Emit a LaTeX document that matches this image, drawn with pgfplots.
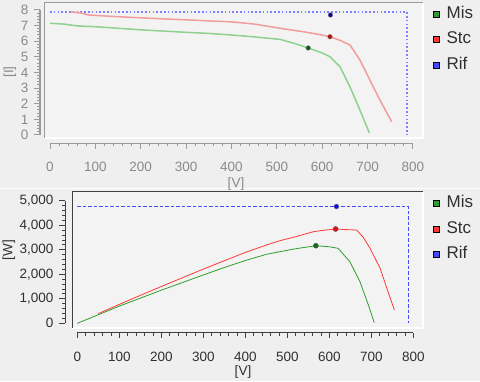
\documentclass[border=0pt]{standalone}
\usepackage{pgfplots}
\pgfplotsset{compat=1.18}
\usepackage{fontspec}
\setmainfont{Liberation Sans}

\definecolor{bgcol}{HTML}{EFEFEF}
\definecolor{plotbg}{HTML}{F3F3F3}
% top chart (faded)
\definecolor{tTxt}{HTML}{8A8A8A}
\definecolor{tAx}{HTML}{9A9A9A}
\definecolor{tMis}{HTML}{8FD18F}
\definecolor{tStc}{HTML}{F29C9C}
\definecolor{tRif}{HTML}{8080FF}
% bottom chart
\definecolor{bTxt}{HTML}{303030}
\definecolor{bAx}{HTML}{404040}
\definecolor{bMis}{HTML}{2E9E2E}
\definecolor{bStc}{HTML}{FF3838}
\definecolor{bRif}{HTML}{4848FF}
\definecolor{dMis}{HTML}{107010}
\definecolor{dStc}{HTML}{E01010}
\definecolor{dRif}{HTML}{0A0AE0}

\pgfplotsset{
  plotarea/.style={
    anchor=south west, scale only axis,
    xtick=\empty, ytick=\empty,
    axis line style={draw=none},
    axis background/.style={fill=plotbg},
    clip=false,
  },
  xscale axis/.style={
    anchor=south west, scale only axis, height=10pt,
    xmin=0, xmax=800, ymin=0, ymax=1,
    axis x line=bottom, axis y line=none,
    xtick={0,100,...,800}, minor x tick num=4,
    xtick align=outside,
    major tick length=5.5pt, minor tick length=3pt,
    tick label style={font=\fontsize{13.5}{15}\selectfont},
    xticklabel style={yshift=-10pt},
    /pgf/number format/assume math mode=true,
  },
  yscale axis/.style={
    anchor=south west, scale only axis, width=10pt,
    xmin=0, xmax=1,
    axis y line=left, axis x line=none,
    minor y tick num=4,
    ytick align=outside,
    major tick length=6pt, minor tick length=3pt,
    tick label style={font=\fontsize{13.5}{15}\selectfont},
    /pgf/number format/assume math mode=true,
    /pgf/number format/1000 sep={,},
  },
  leg/.style={
    legend style={at={(axis description cs:1,1)}, anchor=north west,
      xshift=7pt, yshift=-1pt, draw=none, fill=none,
      font=\fontsize{17}{19}\selectfont, row sep=8.5pt,
      nodes={inner xsep=1pt, inner ysep=1pt, text height=12pt, text depth=3pt},
      /tikz/every odd column/.append style={column sep=6pt}},
    legend cell align=left,
    legend image code/.code={\fill[##1] (0pt,-3pt) rectangle (6pt,3pt);},
  },
}

\begin{document}
\begin{tikzpicture}
\fill[bgcol] (0,0) rectangle (480pt,381pt);
\draw[white, line width=1pt] (0,192pt) -- (480pt,192pt);

% ---------------- top: I-V ----------------
\begin{axis}[plotarea, leg, at={(45pt,243pt)}, width=378pt, height=136pt,
  xmin=-11, xmax=822, ymin=-0.19, ymax=8.51]
\draw[white, line width=2pt] (rel axis cs:0,0) -- (rel axis cs:1,0) -- (rel axis cs:1,1);
\draw[tAx, line width=1pt] (rel axis cs:0,0) -- (rel axis cs:0,1) -- (rel axis cs:1,1);
\addlegendimage{fill=bMis}\addlegendentry{\color{bTxt}Mis}
\addlegendimage{fill=bStc}\addlegendentry{\color{bTxt}Stc}
\addlegendimage{fill=bRif}\addlegendentry{\color{bTxt}Rif}
\addplot[forget plot, tRif, line width=1.8pt, dash pattern=on 1.6pt off 2.2pt] coordinates {
  (0,7.89)(786,7.89)(786,0)};
\addplot[forget plot, tMis, line width=1.5pt] coordinates {
  (0,7.15)(30,7.1)(60,6.98)(100,6.93)(150,6.83)(200,6.73)(250,6.65)(300,6.57)
  (350,6.5)(400,6.4)(450,6.28)(507,6.12)(540,5.85)(569,5.57)(600,5.25)(617,5.01)
  (639,4.37)(661,3.09)(683,1.6)(704,0.12)};
\addplot[forget plot, tStc, line width=1.5pt] coordinates {
  (45,7.88)(70,7.8)(85,7.68)(100,7.65)(150,7.57)(200,7.5)(250,7.43)(300,7.37)
  (350,7.3)(400,7.24)(450,7.1)(507,6.83)(560,6.6)(590,6.45)(617,6.29)(640,6.05)
  (661,5.76)(683,4.8)(705,3.52)(727,2.24)(753,0.85)};
\addplot[forget plot, only marks, mark=*, mark size=2.4pt, draw=tAx, fill=dMis!80!black] coordinates {(569,5.57)};
\addplot[forget plot, only marks, mark=*, mark size=2.4pt, draw=tAx, fill=dStc!80!black] coordinates {(617,6.29)};
\addplot[forget plot, only marks, mark=*, mark size=2.4pt, draw=tAx, fill=dRif!70!black] coordinates {(618,7.68)};
\end{axis}

\begin{axis}[xscale axis, at={(50pt,237.7pt)}, width=363pt,
  x axis line style={-, tAx, line width=1.2pt}, tick style={tAx, line width=1pt},
  tick label style={text=tTxt}]
\end{axis}

\begin{axis}[yscale axis, at={(40pt,246pt)}, height=125pt,
  ymin=0, ymax=8, ytick={0,1,...,8},
  y axis line style={-, tAx, line width=1.8pt}, tick style={tAx, line width=1pt},
  tick label style={text=tTxt}, yticklabel style={xshift=-2pt}]
\end{axis}

\node[tTxt, font=\fontsize{13.5}{15}\selectfont] at (236pt,197pt) {[V]};
\node[tTxt, font=\fontsize{13.5}{15}\selectfont, rotate=90] at (10pt,309pt) {[I]};

% ---------------- bottom: P-V ----------------
\begin{axis}[plotarea, leg, at={(72pt,53.3pt)}, width=351pt, height=136pt,
  xmin=-12.6, xmax=823.1, ymin=-179, ymax=5365]
\draw[white, line width=2pt] (rel axis cs:0,0) -- (rel axis cs:1,0) -- (rel axis cs:1,1);
\draw[bAx, line width=1pt] (rel axis cs:0,0) -- (rel axis cs:0,1) -- (rel axis cs:1,1);
\addlegendimage{fill=bMis}\addlegendentry{\color{bTxt}Mis}
\addlegendimage{fill=bStc}\addlegendentry{\color{bTxt}Stc}
\addlegendimage{fill=bRif}\addlegendentry{\color{bTxt}Rif}
\addplot[forget plot, bRif, line width=0.9pt, dash pattern=on 3.5pt off 2pt] coordinates {
  (0,4770)(788,4770)(788,0)};
\addplot[forget plot, bMis, line width=0.8pt] coordinates {
  (0,0)(50,350)(100,700)(150,1025)(200,1350)(250,1660)(300,1970)(350,2275)
  (400,2560)(450,2810)(482,2919)(520,3040)(568,3163)(600,3120)(621,3057)
  (649,2511)(673,1696)(693,746)(707,25)};
\addplot[forget plot, bStc, line width=0.8pt] coordinates {
  (50,395)(100,770)(150,1140)(200,1500)(250,1855)(300,2210)(350,2550)(400,2890)
  (450,3190)(482,3367)(520,3530)(562,3734)(590,3800)(615,3844)(640,3820)
  (665,3803)(681,3500)(697,3057)(721,2242)(737,1427)(755,542)};
\addplot[forget plot, only marks, mark=*, mark size=2.5pt, draw=black!70, fill=dMis] coordinates {(568,3163)};
\addplot[forget plot, only marks, mark=*, mark size=2.5pt, draw=black!70, fill=dStc] coordinates {(615,3844)};
\addplot[forget plot, only marks, mark=*, mark size=2.5pt, draw=black!50, fill=dRif] coordinates {(617,4760)};
\end{axis}

\begin{axis}[xscale axis, at={(77.3pt,48.3pt)}, width=336pt,
  x axis line style={-, bAx, line width=0.8pt}, tick style={bAx, line width=0.8pt},
  tick label style={text=bTxt}]
\end{axis}

\begin{axis}[yscale axis, at={(65pt,57.7pt)}, height=122.6pt,
  ymin=0, ymax=5000, ytick={0,1000,...,5000},
  y axis line style={-, bAx, line width=0.8pt}, tick style={bAx, line width=0.8pt},
  tick label style={text=bTxt}, yticklabel style={xshift=-2pt},
  scaled y ticks=false]
\end{axis}

\node[bTxt, font=\fontsize{13.5}{15}\selectfont] at (243pt,9pt) {[V]};
\node[bTxt, font=\fontsize{13.5}{15}\selectfont, rotate=90] at (9pt,131pt) {[W]};

\pgfresetboundingbox
\path[use as bounding box] (0,0) rectangle (480pt,381pt);
\end{tikzpicture}
\end{document}
